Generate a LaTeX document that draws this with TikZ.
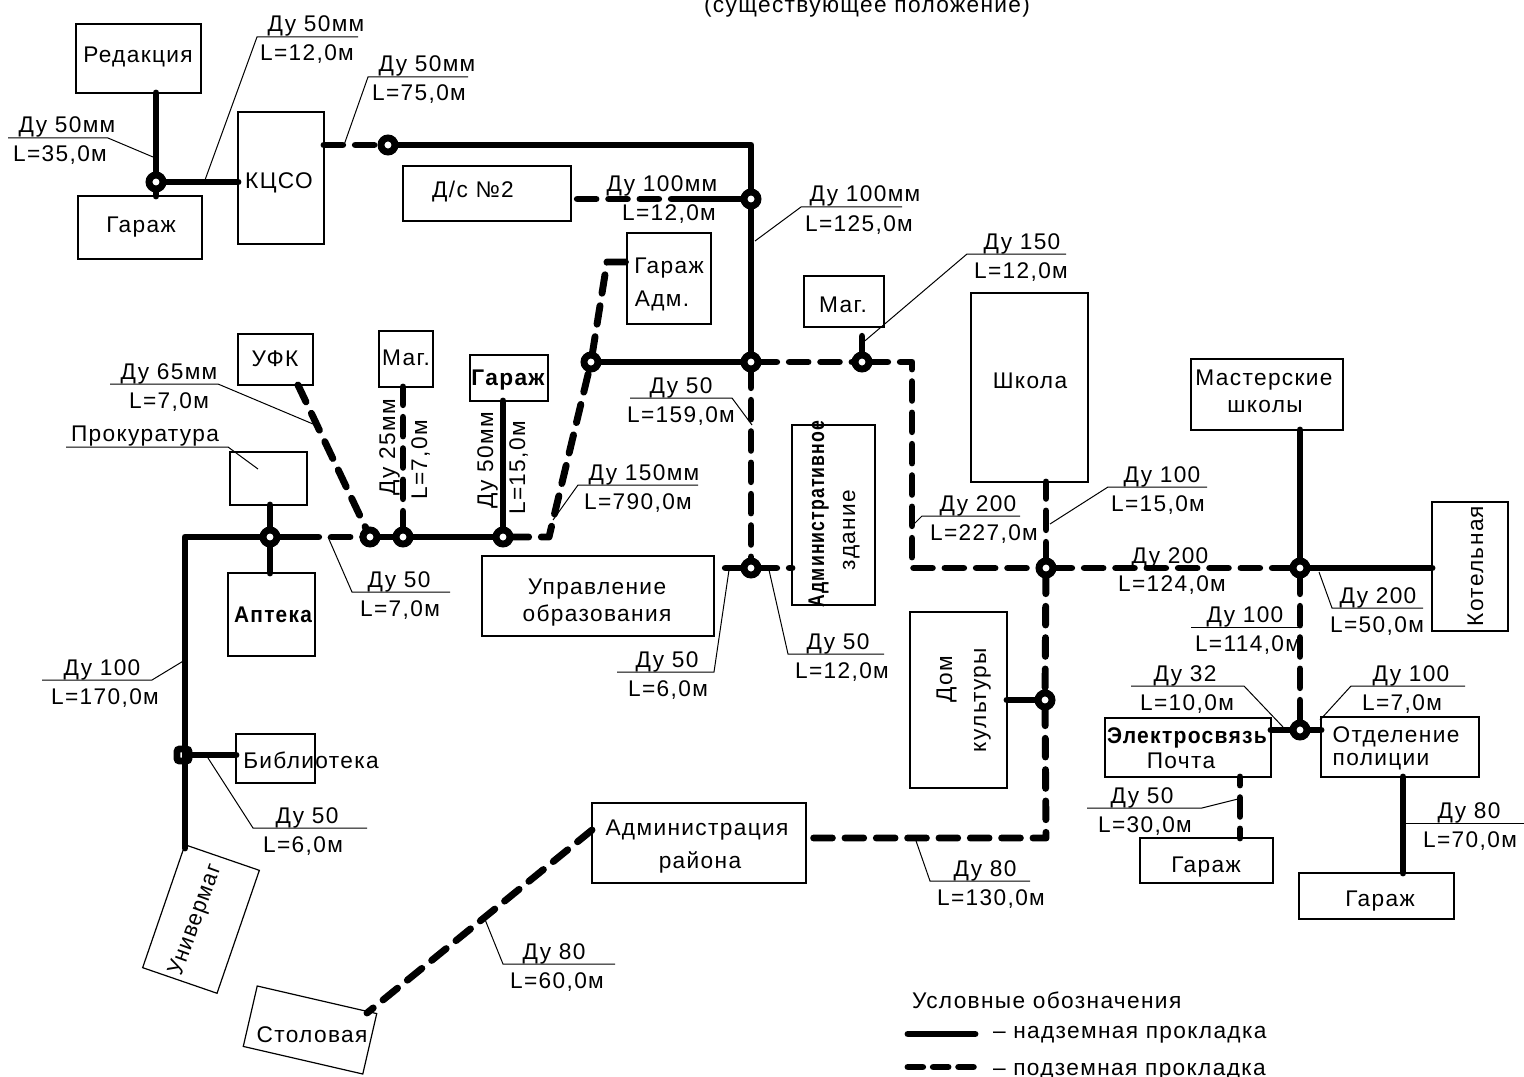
\documentclass[tikz,border=0pt]{standalone}
\usepackage{fontspec}
\newfontfamily\cad[LetterSpace=6]{Liberation Sans}
\newcommand\cadf{\cad\fontsize{17}{19}\selectfont}
\tikzset{
  bxs/.style={draw=black,line width=.9pt,rectangle,inner sep=0pt,outer sep=0pt},
  txt/.style={font=\cadf,inner sep=0pt,outer sep=0pt,anchor=base},
  pipe/.style={line width=5.2pt,line join=round,line cap=round},
  ug/.style={pipe,dash pattern=on 14pt off 9.5pt},
  lead/.style={line width=.75pt},
  junc/.style={circle,draw=black,fill=white,line width=5.2pt,minimum size=10.5pt,inner sep=0pt,outer sep=0pt}
}
\newcommand\bx[5]{\node[bxs,minimum width={(#4-#2)*0.75pt},minimum height={(#5-#3)*0.75pt}] (#1) at ({(#2+#4)/2},{(#3+#5)/2}) {};}
\newcommand\tx[4]{\node[txt] (#1) at (#2,#3) {#4};}
\newcommand\txr[4]{\node[txt,rotate=90] (#1) at (#2,#3) {#4};}
\newcommand\lab[9]{\coordinate (#1-t) at (#2,#3);\coordinate (#1-e) at (#4,#5);\coordinate (#1-f) at (#6,#5);
  \draw[lead] (#1-t)--(#1-e)--(#1-f);
  \node[txt] (#1-a) at (#7,{#5-5}) {#9};\labbot{#1}{#5}{#8}}
\newcommand\labbot[4]{\node[txt] (#1-b) at (#3,{#2+24}) {#4};}
\begin{document}
\begin{tikzpicture}[x=.75pt,y=-.75pt]
\useasboundingbox (0,0) rectangle (1524,1077);
\fill[white] (0,0) rectangle (1524,1077);
% boxes
\bx{red}{76}{24}{201}{93}
\bx{gar1}{78}{196}{202}{259}
\bx{kcso}{238}{112}{324}{244}
\bx{ds}{403}{166}{571}{221}
\bx{gadm}{627}{233}{711}{324}
\bx{mag2}{804}{276}{884}{327}
\bx{shk}{971}{293}{1088}{482}
\bx{ufk}{238}{334}{313}{385}
\bx{mag1}{379}{331}{433}{387}
\bx{gar2}{470}{355}{548}{401}
\bx{prok}{230}{452}{307}{505}
\bx{apt}{228}{573}{315}{656}
\bx{upr}{482}{556}{714}{636}
\bx{adm}{792}{425}{875}{605}
\bx{mast}{1191}{359}{1343}{430}
\bx{kot}{1432}{502}{1508}{631}
\bx{dk}{910}{612}{1007}{788}
\bx{el}{1105}{718}{1271}{777}
\bx{pol}{1321}{717}{1479}{777}
\bx{gar3}{1140}{838}{1273}{883}
\bx{gar4}{1299}{873}{1454}{919}
\bx{arn}{592}{803}{806}{883}
\bx{bib}{236}{734}{315}{783}
\node[bxs,rotate=-19,minimum width=59pt,minimum height=97.5pt] (unv) at (201,919) {};
\node[bxs,rotate=-13,minimum width=92pt,minimum height=46.5pt] (sto) at (310,1030) {};
% junctions
\node[junc] (j1) at (156,182) {};
\node[junc] (j2) at (388,145) {};
\node[junc] (j3) at (751,199) {};
\node[junc] (j4) at (751,362) {};
\node[junc] (j5) at (591,362) {};
\node[junc] (j6) at (862,362) {};
\node[junc] (j7) at (751,568) {};
\node[junc] (j8) at (1046,568) {};
\node[junc] (j9) at (1300,568) {};
\node[junc] (j10) at (1045,700) {};
\node[junc] (j11) at (1300,730) {};
\node[junc] (j12) at (270,537) {};
\node[junc] (j13) at (370,537) {};
\node[junc] (j14) at (403,537) {};
\node[junc] (j15) at (503,537) {};
\node[junc,rectangle,rounded corners=2pt,minimum size=9pt] (j16) at (183,755) {};
% helper points
\coordinate (k1) at (751,145);
\coordinate (k2) at (690,199);
\coordinate (k3) at (607,262);
\coordinate (k4) at (549,537);
\coordinate (k5) at (912,362);
\coordinate (k6) at (912,568);
\coordinate (k7) at (1046,838);
\coordinate (k8) at (185,537);
\coordinate (k9) at (185,848);
\coordinate (k10) at (300,537);
\coordinate (k11) at (367,1013);
\coordinate (k12) at (592,830);
\coordinate (k13) at (298,385);
\coordinate (k14) at (1403,777);
\coordinate (k15) at (1240,777);
% solid pipes
\draw[pipe] (j1)--(j1|-red.south);
\draw[pipe] (j1)--(j1|-gar1.north);
\draw[pipe] (j1)--(j1-|kcso.west);
\draw[pipe] (j2)--(k1)--(j3);
\draw[pipe] (j3)--(k2);
\draw[pipe] (j3)--(j4);
\draw[pipe] (j4)--(j5);
\draw[pipe] (j10)--(j10-|dk.east);
\draw[pipe] (j9)--(j9|-mast.south);
\draw[pipe] (j9)--(j9-|kot.west);
\draw[pipe] (j11)--(j11-|el.east);
\draw[pipe] (j11)--(j11-|pol.west);
\draw[pipe] (k14)--(k14|-gar4.north);
\draw[pipe] (j12)--(j12|-prok.south);
\draw[pipe] (j12)--(j12|-apt.north);
\draw[pipe] (j12)--(k8)--(k9);
\draw[pipe] (j12)--(k10);
\draw[pipe] (j13)--(j14);
\draw[pipe] (j14)--(j15);
\draw[pipe] (j15)--(j15|-gar2.south);
\draw[pipe] (j16)--(j16-|bib.west);
% underground pipes
\draw[ug] (j2-|kcso.east)--(j2);
\draw[ug] (k2)--(j3-|ds.east);
\draw[ug] (j5)--(k3)--(k3-|gadm.west);
\draw[ug] (j15)--(k4)--(j5);
\draw[ug] (j4)--(j6);
\draw[ug] (j6)--(k5)--(k6)--(j8);
\draw[ug] (j6)--(j6|-mag2.south);
\draw[ug] (j4)--(j7);
\draw[ug] (j7)--(j7-|upr.east);
\draw[ug] (j7)--(j7-|adm.west);
\draw[ug] (j8)--(j8|-shk.south);
\draw[ug] (j8)--(j10);
\draw[ug] (j10)--(k7)--(k7-|arn.east);
\draw[ug] (j8)--(j9);
\draw[ug] (j9)--(j11);
\draw[ug,dash phase=8pt] (k15)--(k15|-gar3.north);
\draw[ug] (k12)--(k11);
\draw[ug] (k10)--(j13);
\draw[ug] (k13)--(j13);
\draw[ug] (j14)--(j14|-mag1.south);
% leaders and labels
\lab{a}{153}{157}{108}{138}{8}{67}{60}{Ду 50мм}{L=35,0м}
\lab{b}{205}{180}{257}{37}{358}{316}{307}{Ду 50мм}{L=12,0м}
\lab{c}{344}{145}{368}{77}{468}{427}{419}{Ду 50мм}{L=75,0м}
\lab{e}{755}{241}{801}{207}{902}{865}{859}{Ду 100мм}{L=125,0м}
\lab{f}{860}{345}{967}{254}{1066}{1022}{1021}{Ду 150}{L=12,0м}
\lab{g}{313}{424}{218}{384}{110}{169}{169}{Ду 65мм}{L=7,0м}
\lab{i}{328}{537}{352}{592}{450}{399}{400}{Ду 50}{L=7,0м}
\lab{j}{553}{520}{578}{485}{698}{644}{638}{Ду 150мм}{L=790,0м}
\lab{l}{752}{425}{732}{398}{630}{681}{681}{Ду 50}{L=159,0м}
\lab{m}{913}{525}{922}{516}{1020}{978}{984}{Ду 200}{L=227,0м}
\lab{n}{1050}{524}{1108}{487}{1207}{1162}{1158}{Ду 100}{L=15,0м}
\lab{p}{1319}{572}{1332}{608}{1423}{1378}{1377}{Ду 200}{L=50,0м}
\lab{q}{1300}{627}{1300}{627}{1191}{1245}{1248}{Ду 100}{L=114,0м}
\lab{r}{1283}{727}{1244}{686}{1131}{1185}{1187}{Ду 32}{L=10,0м}
\lab{s}{1320}{720}{1351}{686}{1465}{1411}{1402}{Ду 100}{L=7,0м}
\lab{t}{1238}{799}{1202}{808}{1087}{1142}{1145}{Ду 50}{L=30,0м}
\lab{u}{1405}{823}{1405}{823}{1524}{1469}{1470}{Ду 80}{L=70,0м}
\lab{v}{769}{570}{788}{654}{884}{838}{842}{Ду 50}{L=12,0м}
\lab{w}{729}{570}{714}{672}{617}{667}{668}{Ду 50}{L=6,0м}
\lab{x}{185}{660}{152}{680}{42}{102}{105}{Ду 100}{L=170,0м}
\lab{y}{208}{758}{253}{828}{367}{307}{303}{Ду 50}{L=6,0м}
\lab{z}{915}{838}{930}{881}{1030}{985}{991}{Ду 80}{L=130,0м}
\lab{aa}{484}{917}{503}{964}{615}{554}{557}{Ду 80}{L=60,0м}
% Prokuratura leader
\coordinate (h-t) at (258,469);\coordinate (h-e) at (228,447);\coordinate (h-f) at (66,447);
\draw[lead] (h-t)--(h-e)--(h-f);
\tx{h-a}{145}{441}{Прокуратура}
% free labels
\tx{d1}{662}{192}{Ду 100мм}
\tx{d2}{669}{220}{L=12,0м}
\tx{o1}{1170}{563}{Ду 200}
\tx{o2}{1172}{591}{L=124,0м}
\txr{v1}{395}{447}{Ду 25мм}
\txr{v2}{427}{460}{L=7,0м}
\txr{v3}{493}{460}{Ду 50мм}
\txr{v4}{525}{468}{L=15,0м}
% box texts
\tx{t1}{138}{63}{Редакция}
\tx{t2}{141}{233}{Гараж}
\tx{t3}{279}{189}{КЦСО}
\tx{t4}{473}{198}{Д/с №2}
\tx{t5}{669}{273}{Гараж}
\tx{t6}{662}{306}{Адм.}
\tx{t7}{843}{312}{Маг.}
\tx{t8}{1030}{388}{Школа}
\tx{t9}{275}{366}{УФК}
\tx{t10}{406}{365}{Маг.}
\tx{t11}{508}{385}{\bfseries Гараж}
\tx{t12}{273}{622}{\scalebox{.92}[1]{\bfseries Аптека}}
\tx{t13}{597}{594}{Управление}
\tx{t14}{597}{621}{образования}
\tx{t15}{697}{835}{Администрация}
\tx{t16}{700}{868}{района}
\txr{t17}{952}{679}{Дом}
\txr{t18}{986}{700}{культуры}
\txr{t19}{824}{514}{\scalebox{.78}[1]{\bfseries Административное}}
\txr{t20}{855}{530}{здание}
\tx{t21}{1264}{385}{Мастерские}
\tx{t22}{1265}{412}{школы}
\txr{t23}{1483}{566}{Котельная}
\tx{t24}{311}{768}{Библиотека}
\node[txt,rotate=70] (t25) at (201,922) {\scalebox{.95}[1]{Универмаг}};
\tx{t26}{312}{1042}{Столовая}
\tx{t27}{1187}{743}{\scalebox{.93}[1]{\bfseries Электросвязь}}
\tx{t28}{1181}{768}{Почта}
\tx{t29}{1396}{742}{Отделение}
\tx{t30}{1381}{765}{полиции}
\tx{t31}{1206}{872}{Гараж}
\tx{t32}{1380}{906}{Гараж}
\tx{t33}{867}{13}{(существующее положение)}
% legend
\node[txt,anchor=base west] (l0) at (912,1008) {Условные обозначения};
\node[txt,anchor=base west] (l1) at (993,1038) {– надземная прокладка};
\node[txt,anchor=base west] (l2) at (993,1075) {– подземная прокладка};
\coordinate (m1) at (908,1034);\coordinate (m2) at (975,1034);
\coordinate (m3) at (908,1067);\coordinate (m4) at (975,1067);
\draw[pipe] (m1)--(m2);
\draw[pipe,dash pattern=on 11pt off 8pt] (m3)--(m4);
\end{tikzpicture}
\end{document}
